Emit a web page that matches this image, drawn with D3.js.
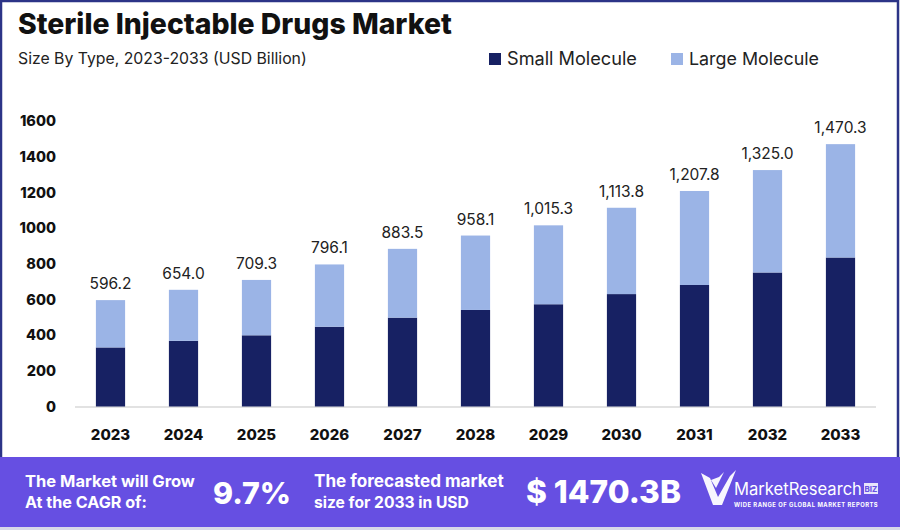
<!DOCTYPE html>
<html><head><meta charset="utf-8">
<script src="https://cdn.jsdelivr.net/npm/d3@7"></script>
<style>body{margin:0;background:#fff}svg{display:block}text{font-family:Inter,"Open Sans",sans-serif}</style>
</head><body><svg id="c" width="900" height="530"></svg>
<script>
const years = ["2023","2024","2025","2026","2027","2028","2029","2030","2031","2032","2033"];
const totals = [596.2,654.0,709.3,796.1,883.5,958.1,1015.3,1113.8,1207.8,1325.0,1470.3];
const smallMolecule = [331,368,399,447,498,541,573,630,681,751,835];
const largeMolecule = totals.map((t,i)=>+(t-smallMolecule[i]).toFixed(1));
const yTicks = [0,200,400,600,800,1000,1200,1400,1600];
const seriesNames = ["Small Molecule","Large Molecule"];
const colors = ["#172163","#9bb4e6"];

const svg = d3.select("#c");
function fit(sel, w){ const n=sel.node(); const l=n.getComputedTextLength(); const fs=parseFloat(sel.attr("font-size")); sel.attr("font-size", fs*w/l); return sel; }

// border
svg.append("rect").attr("x",1).attr("y",1).attr("width",897).attr("height",526).attr("fill","#fff").attr("stroke","#2c3487").attr("stroke-width",2.5);

// title
fit(svg.append("text").attr("x",18).attr("y",34).attr("font-size",26).attr("font-weight",800).attr("fill","#111").text("Sterile Injectable Drugs Market"),434);
fit(svg.append("text").attr("x",18).attr("y",64).attr("font-size",15).attr("fill","#222").text("Size By Type, 2023-2033 (USD Billion)"),289);

// legend
const legX=[489,671], legW=[130,130];
seriesNames.forEach((s,i)=>{
  svg.append("rect").attr("x",legX[i]).attr("y",53).attr("width",12).attr("height",12).attr("fill",colors[i]);
  fit(svg.append("text").attr("x",legX[i]+18).attr("y",65).attr("font-size",17).attr("fill","#222").text(s),legW[i]);
});

const x = d3.scaleBand().domain(years).range([74,877]).paddingInner(0.6).paddingOuter(0.3);
const y = d3.scaleLinear().domain([0,1600]).range([406.5,121]);

// baseline
svg.append("line").attr("x1",75).attr("x2",876).attr("y1",y(0)+0.5).attr("y2",y(0)+0.5).attr("stroke","#d9d9d9").attr("stroke-width",1.5);

// y axis
const ya = svg.append("g").attr("transform","translate(56,0)").call(d3.axisLeft(y).tickValues(yTicks).tickSize(0).tickPadding(0).tickFormat(d3.format("d")));
ya.select(".domain").remove();
ya.selectAll("text").attr("font-size",14.5).attr("font-weight",800).attr("fill","#111").attr("font-family","Inter,sans-serif");

// x axis
const xa = svg.append("g").attr("transform","translate(0,"+(y(0))+")").call(d3.axisBottom(x).tickSize(0).tickPadding(23));
xa.select(".domain").remove();
xa.selectAll("text").attr("font-size",15).attr("font-weight",800).attr("fill","#111").attr("font-family","Inter,sans-serif");

// stacked bars
const data = years.map((yr,i)=>({year:yr, s:smallMolecule[i], l:largeMolecule[i], t:totals[i]}));
const stack = d3.stack().keys(["s","l"])(data);
svg.append("g").selectAll("g").data(stack).join("g").attr("fill",(d,i)=>colors[i])
  .selectAll("rect").data(d=>d).join("rect")
  .attr("x",d=>x(d.data.year)).attr("width",x.bandwidth())
  .attr("y",d=>y(d[1])).attr("height",d=>y(d[0])-y(d[1]));

// value labels
svg.append("g").selectAll("text").data(data).join("text")
  .attr("x",d=>x(d.year)+x.bandwidth()/2).attr("y",d=>y(d.t)-11)
  .attr("text-anchor","middle").attr("font-size",15.5).attr("fill","#222")
  .text(d=>d3.format(",.1f")(d.t));

// banner
svg.append("rect").attr("x",0).attr("y",457).attr("width",900).attr("height",71).attr("fill","#664fe2");
svg.append("rect").attr("x",0).attr("y",527).attr("width",900).attr("height",3).attr("fill","#d8d8e8");
const wt = (x0,y0,fs,w,txt,fw)=>fit(svg.append("text").attr("x",x0).attr("y",y0).attr("font-size",fs).attr("font-weight",fw||700).attr("fill","#fff").text(txt),w);
wt(25,487,15,170,"The Market will Grow");
wt(25,508,15,122,"At the CAGR of:");
wt(213,504,34,78,"9.7%",800);
wt(314,487,15,190,"The forecasted market");
wt(314,508,15,155,"size for 2033 in USD");
wt(526,503,30,155,"$ 1470.3B",800);
// logo
const lg = svg.append("g").attr("fill","#fff");
lg.append("path").attr("d","M701,473 L713,505 L722,505 L736,470 L730,476 L718,497 L710,478 Z M711,480 L716,488 L724,472 L719,477 Z").attr("opacity",0.95);
fit(lg.append("text").attr("x",734).attr("y",495).attr("font-size",24).attr("font-family","'Liberation Sans Narrow','DejaVu Sans Condensed',sans-serif").attr("fill","#fff").text("MarketResearch"),128);
lg.append("rect").attr("x",864).attr("y",483).attr("width",14).attr("height",11).attr("fill","#fff").attr("opacity",0.85);
lg.append("text").attr("x",871).attr("y",492).attr("text-anchor","middle").attr("font-size",8).attr("font-weight",700).attr("fill","#664fe2").text("BIZ");
fit(lg.append("text").attr("x",734).attr("y",507).attr("font-size",6).attr("font-weight",700).attr("fill","#fff").attr("letter-spacing",0.5).text("WIDE RANGE OF GLOBAL MARKET REPORTS"),144);
</script></body></html>
